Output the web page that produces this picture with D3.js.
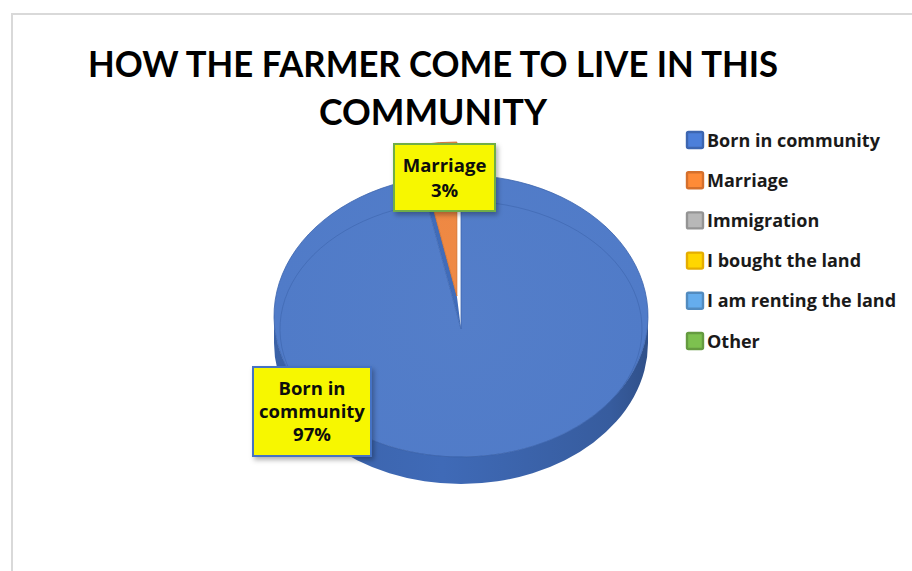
<!DOCTYPE html>
<html>
<head>
<meta charset="utf-8">
<script src="https://cdn.jsdelivr.net/npm/d3@7"></script>
<style>
  html, body { margin: 0; padding: 0; background: #ffffff; }
  svg { display: block; }
</style>
</head>
<body>
<svg id="chart" width="912" height="571"></svg>
<script>
// ---- data ----
const categories = ["Born in community", "Marriage", "Immigration", "I bought the land", "I am renting the land", "Other"];
const shares = [97, 3, 0, 0, 0, 0];
const seriesColors = ["#4472c4", "#ed7d31", "#a5a5a5", "#ffc000", "#5b9bd5", "#70ad47"];
const titleLines = ["HOW THE FARMER COME TO LIVE IN THIS", "COMMUNITY"];

// ---- layout ----
const W = 912, H = 571;
const TITLE_FONT = "Lato, 'Open Sans', 'DejaVu Sans', sans-serif";
const FONT = "'Open Sans', Lato, 'DejaVu Sans', sans-serif";
const rim  = { cx: 461, cy: 316, rx: 187, ry: 141 };   // outer edge of the top face
const face = { cx: 461, cy: 329, rx: 181, ry: 128 };   // inner bevel ring, slices meet at its centre
const depth = 27;
const explodeFrac = [0, 0.235, 0, 0, 0, 0];            // pull-out of each slice along its bisector
const labelBoxes = [
  { cx: 312, cy: 411.5, w: 118, h: 89, border: "#4472c4" },
  { cx: 444.5, cy: 177.5, w: 101, h: 67, border: "#70ad47" }
];

const svg = d3.select("#chart");
const defs = svg.append("defs");

// chart area frame
svg.append("rect")
  .attr("x", 12).attr("y", 14).attr("width", W + 10).attr("height", H + 10)
  .attr("fill", "#ffffff").attr("stroke", "#d9d9d9").attr("stroke-width", 2);

// title
const title = svg.append("g").attr("font-family", TITLE_FONT).attr("font-weight", 700)
  .attr("font-size", 36).attr("fill", "#000").attr("text-anchor", "middle");
const titleWidths = [690, 228];
titleLines.forEach((t, i) => {
  title.append("text").attr("x", 433).attr("y", 77 + i * 48)
    .attr("textLength", titleWidths[i]).attr("lengthAdjust", "spacingAndGlyphs")
    .text(t);
});

// ---- pie geometry ----
const data = categories.map((c, i) => ({ name: c, value: shares[i], color: seriesColors[i], explode: explodeFrac[i], index: i }));
const pie = d3.pie().sort(null).value(d => d.value).startAngle(0).endAngle(2 * Math.PI);
const arcs = pie(data).filter(a => a.value > 0);

const onEllipse = (e, a) => [e.cx + e.rx * Math.sin(a), e.cy - e.ry * Math.cos(a)];
function offsetOf(a) {
  const mid = (a.startAngle + a.endAngle) / 2;
  const f = a.data.explode;
  return [f * rim.rx * Math.sin(mid), -f * rim.ry * Math.cos(mid)];
}
const add = (p, o) => [p[0] + o[0], p[1] + o[1]];

function topPath(a, off) {
  const apex = add([face.cx, face.cy], off);
  const i0 = add(onEllipse(face, a.startAngle), off), o0 = add(onEllipse(rim, a.startAngle), off);
  const o1 = add(onEllipse(rim, a.endAngle), off), i1 = add(onEllipse(face, a.endAngle), off);
  const large = (a.endAngle - a.startAngle) > Math.PI ? 1 : 0;
  return `M${apex}L${i0}L${o0}A${rim.rx},${rim.ry} 0 ${large} 1 ${o1}L${i1}Z`;
}
function bevelPath(a, off) {
  const p0 = add(onEllipse(face, a.startAngle), off), p1 = add(onEllipse(face, a.endAngle), off);
  const large = (a.endAngle - a.startAngle) > Math.PI ? 1 : 0;
  return `M${p0}A${face.rx},${face.ry} 0 ${large} 1 ${p1}`;
}
function sidePath(a, off) {
  const s = Math.max(a.startAngle, Math.PI / 2), e = Math.min(a.endAngle, 3 * Math.PI / 2);
  if (e <= s) return null;
  const p0 = add(onEllipse(rim, s), off), p1 = add(onEllipse(rim, e), off);
  const large = (e - s) > Math.PI ? 1 : 0;
  return `M${p0}A${rim.rx},${rim.ry} 0 ${large} 1 ${p1}` +
         `L${p1[0]},${p1[1] + depth}A${rim.rx},${rim.ry} 0 ${large} 0 ${p0[0]},${p0[1] + depth}Z`;
}

// face colour: the series colour, a touch lighter
function faceColor(c) {
  const h = d3.hsl(c);
  h.l = Math.min(1, h.l * 1.06);
  return h;
}

// gradients
arcs.forEach(a => {
  const c = d3.color(a.data.color);
  const side = defs.append("linearGradient").attr("id", "side" + a.data.index)
    .attr("gradientUnits", "userSpaceOnUse")
    .attr("x1", rim.cx - rim.rx).attr("x2", rim.cx + rim.rx).attr("y1", 0).attr("y2", 0);
  side.append("stop").attr("offset", "0%").attr("stop-color", c.darker(0.45));
  side.append("stop").attr("offset", "45%").attr("stop-color", c.darker(0.2));
  side.append("stop").attr("offset", "90%").attr("stop-color", c.darker(0.6));
  side.append("stop").attr("offset", "100%").attr("stop-color", c.darker(1.0));
  const fc = faceColor(c);
  const top = defs.append("radialGradient").attr("id", "top" + a.data.index)
    .attr("gradientUnits", "userSpaceOnUse")
    .attr("cx", rim.cx).attr("cy", rim.cy).attr("r", rim.rx);
  top.append("stop").attr("offset", "0%").attr("stop-color", fc.brighter(0.05));
  top.append("stop").attr("offset", "100%").attr("stop-color", fc);
});

const pieG = svg.append("g");

// side walls
arcs.forEach(a => {
  const d = sidePath(a, offsetOf(a));
  if (d) pieG.append("path").attr("d", d).attr("fill", `url(#side${a.data.index})`);
});

// cut surfaces revealed where a slice is pulled out
arcs.forEach(a => {
  if (!a.data.explode) return;
  const off = offsetOf(a);
  const apex = [face.cx, face.cy];
  const inn = onEllipse(face, a.startAngle), out = onEllipse(rim, a.startAngle);
  const pts = [apex, inn, out, add(out, off), add(inn, off), add(apex, off)];
  pieG.append("path").attr("d", "M" + pts.join("L") + "Z")
    .attr("fill", d3.color(seriesColors[0]).darker(0.15));
});

// top faces
arcs.forEach(a => {
  const off = offsetOf(a);
  const c = d3.color(a.data.color);
  pieG.append("path").attr("d", topPath(a, off))
    .attr("fill", `url(#top${a.data.index})`)
    .attr("stroke", c.darker(0.35)).attr("stroke-width", 0.8).attr("stroke-linejoin", "round");
  pieG.append("path").attr("d", bevelPath(a, off))
    .attr("fill", "none").attr("stroke", c.darker(0.4)).attr("stroke-width", 0.8).attr("opacity", 0.7);
});

// ---- data labels ----
const shadow = defs.append("filter").attr("id", "shadow").attr("x", "-20%").attr("y", "-20%")
  .attr("width", "150%").attr("height", "150%");
shadow.append("feDropShadow").attr("dx", 2).attr("dy", 3).attr("stdDeviation", 2.5)
  .attr("flood-color", "#000").attr("flood-opacity", 0.3);

const labelG = svg.append("g").attr("font-family", FONT).attr("font-weight", 700);
arcs.forEach((a, k) => {
  const box = labelBoxes[k];
  const g = labelG.append("g");
  g.append("rect")
    .attr("x", box.cx - box.w / 2).attr("y", box.cy - box.h / 2)
    .attr("width", box.w).attr("height", box.h)
    .attr("fill", "#f7f700").attr("stroke", box.border).attr("stroke-width", 2)
    .attr("filter", "url(#shadow)");

  // word wrap of the category name inside the box
  const probe = g.append("text").attr("font-size", 18.5);
  const words = a.data.name.split(" ");
  const lines = [];
  let cur = "";
  words.forEach(w => {
    const test = cur ? cur + " " + w : w;
    probe.text(test);
    if (probe.node().getComputedTextLength() > box.w - 4 && cur) { lines.push(cur); cur = w; }
    else cur = test;
  });
  lines.push(cur);
  probe.remove();
  lines.push(Math.round(a.value) + "%");

  const lh = lines.length > 2 ? 23 : 25;
  const y0 = box.cy - (lines.length - 1) * lh / 2 + 6.5;
  lines.forEach((t, j) => {
    g.append("text").attr("x", box.cx).attr("y", y0 + j * lh)
      .attr("text-anchor", "middle").attr("font-size", 18.5).attr("fill", "#0d0d0d").text(t);
  });
});

// ---- legend ----
const legend = svg.append("g").attr("font-family", FONT).attr("font-weight", 700);
categories.forEach((c, i) => {
  const y = 140 + i * 40.2;
  const col = d3.color(seriesColors[i]);
  legend.append("rect").attr("x", 687).attr("y", y - 8).attr("width", 16).attr("height", 16)
    .attr("rx", 1.5)
    .attr("fill", col.brighter(0.3)).attr("stroke", col.darker(0.3)).attr("stroke-width", 2.4);
  legend.append("text").attr("x", 707).attr("y", y + 6.5)
    .attr("font-size", 18).attr("fill", "#1a1a1a").text(c);
});
</script>
</body>
</html>
